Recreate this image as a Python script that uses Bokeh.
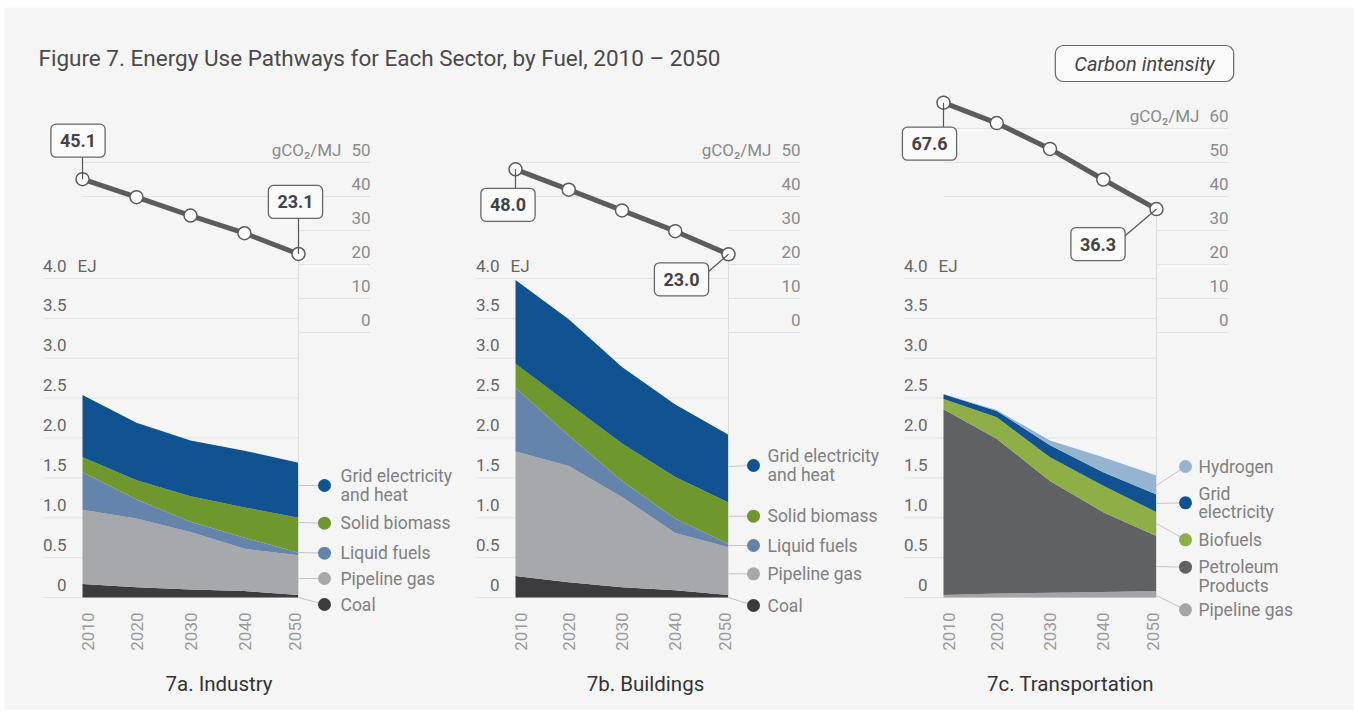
import math
from bokeh.plotting import figure
from bokeh.models import Range1d, ColumnDataSource, Label
from bokeh.core.properties import value
from bokeh.embed import file_html
from bokeh.resources import INLINE

# ---------------- data ----------------
years = [2010, 2020, 2030, 2040, 2050]
year_labels = ["2010", "2020", "2030", "2040", "2050"]

# 7a Industry (EJ)
ind_coal = [0.17, 0.13, 0.10, 0.08, 0.03]
ind_gas = [0.93, 0.86, 0.72, 0.53, 0.50]
ind_liquid = [0.47, 0.24, 0.13, 0.14, 0.03]
ind_biomass = [0.19, 0.24, 0.32, 0.38, 0.44]
ind_grid = [0.78, 0.72, 0.70, 0.71, 0.69]
ind_ci = [45.1, 39.8, 34.4, 29.2, 23.1]

# 7b Buildings (EJ)
bld_coal = [0.27, 0.19, 0.13, 0.09, 0.03]
bld_gas = [1.56, 1.46, 1.13, 0.72, 0.60]
bld_liquid = [0.80, 0.38, 0.20, 0.18, 0.04]
bld_biomass = [0.30, 0.40, 0.47, 0.52, 0.52]
bld_grid = [1.05, 1.06, 0.96, 0.91, 0.85]
bld_ci = [48.0, 42.0, 35.9, 29.8, 23.0]

# 7c Transportation (EJ)
trn_gas = [0.03, 0.05, 0.06, 0.07, 0.08]
trn_petroleum = [2.33, 1.94, 1.40, 1.00, 0.69]
trn_biofuels = [0.13, 0.27, 0.30, 0.33, 0.30]
trn_grid = [0.06, 0.08, 0.15, 0.17, 0.22]
trn_hydrogen = [0.00, 0.01, 0.06, 0.19, 0.24]
trn_ci = [67.6, 61.6, 54.0, 45.0, 36.3]

ej_ticks = [0, 0.5, 1.0, 1.5, 2.0, 2.5, 3.0, 3.5, 4.0]
ej_tick_labels = ["0", "0.5", "1.0", "1.5", "2.0", "2.5", "3.0", "3.5", "4.0"]
ci_ticks_50 = [0, 10, 20, 30, 40, 50]
ci_ticks_60 = [0, 10, 20, 30, 40, 50, 60]

title_text = "Figure 7. Energy Use Pathways for Each Sector, by Fuel, 2010 \u2013 2050"
panel_titles = ["7a. Industry", "7b. Buildings", "7c. Transportation"]

# ---------------- styles / layout ----------------
FONT_NAME = "Roboto"
FONT = value(FONT_NAME)
BG = "#f5f5f5"
GRID = "#e2e2e2"
LINE = "#5c5c5c"
C_COAL = "#3c3c3e"
C_GAS = "#a7a8ab"
C_LIQ = "#6584ab"
C_BIO = "#6e982e"
C_GRID = "#115391"
C_PET = "#606163"
C_BIOF = "#8eae46"
C_H2 = "#94b4d2"
C_TGAS = "#a3a4a7"

W, H = 1354, 710
EJ0_Y, EJ_PX = 597.0, 79.75      # y (from top) of 0 EJ, px per EJ
CI0_Y, CI_PX = 332.0, 3.4        # y (from top) of 0 gCO2/MJ, px per unit
LBL_GAP = 13                     # tick label anchor this many px above its grid line

p = figure(width=W, height=H, x_range=Range1d(0, W), y_range=Range1d(H, 0),
           output_backend="svg", toolbar_location=None, min_border=0,
           background_fill_color="white", border_fill_color="white",
           outline_line_color=None, x_axis_location=None, y_axis_location=None)
p.xgrid.visible = False
p.ygrid.visible = False

# panel background
p.quad(left=[4], right=[W], top=[7], bottom=[H], fill_color=BG, line_color=None)

p.extra_y_ranges = {
    "ej": Range1d(-(H - EJ0_Y) / EJ_PX, EJ0_Y / EJ_PX),
    "ci": Range1d(-(H - CI0_Y) / CI_PX, CI0_Y / CI_PX),
}

panels = {
    "ind": dict(xa=82, xb=298),
    "bld": dict(xa=515, xb=728),
    "trn": dict(xa=943, xb=1156),
}
for name, pn in panels.items():
    k = 40.0 / (pn["xb"] - pn["xa"])
    pn["k"] = k
    p.extra_x_ranges[name] = Range1d(2010 - pn["xa"] * k, 2050 + (W - pn["xb"]) * k)


def fx(name, yr):
    pn = panels[name]
    return pn["xa"] + (yr - 2010) / pn["k"]


def fy_ci(v):
    return CI0_Y - v * CI_PX


def txt(x, y, text, size="17px", color="#6b6b6b", align="left", baseline="middle",
        style="normal", **kw):
    p.text(x=x, y=y, text=text, text_font=FONT, text_font_size=size, text_color=color,
           text_align=align, text_baseline=baseline, text_font_style=style, **kw)


def panel(name, stacks, colors, ci, ci_ticks, legend, boxes, title, title_x):
    pn = panels[name]
    xa, xb = pn["xa"], pn["xb"]
    n = len(ej_ticks)
    # EJ grid lines
    p.segment(x0=[xa - 39] * n, x1=[xb] * n, y0=ej_ticks, y1=ej_ticks, y_range_name="ej",
              line_color=GRID, line_width=1)
    # stacked areas
    data = {"year": years}
    names = []
    for i, s in enumerate(stacks):
        data[f"s{i}"] = s
        names.append(f"s{i}")
    p.varea_stack(stackers=names, x="year", color=colors, source=ColumnDataSource(data),
                  x_range_name=name, y_range_name="ej")
    # EJ tick labels (placed above their grid lines)
    ej_lbl_y = [t + LBL_GAP / EJ_PX for t in ej_ticks]
    txt([xa - 16] * n, ej_lbl_y, ej_tick_labels, align="right", baseline="middle",
        y_range_name="ej", color="#666666")
    txt([xa - 5], [ej_lbl_y[-1]], ["EJ"], baseline="middle", y_range_name="ej",
        color="#666666")
    # vertical line at 2050
    p.segment(x0=[xb], x1=[xb], y0=[fy_ci(ci[-1])], y1=[EJ0_Y], line_color="#dcdcdc",
              line_width=1)
    # CI grid lines
    x0s = [xa if t >= 40 else xb for t in ci_ticks]
    p.segment(x0=x0s, x1=[xb + 72] * len(ci_ticks), y0=ci_ticks, y1=ci_ticks,
              y_range_name="ci", line_color=GRID, line_width=1)
    ci_lbl_y = [t + LBL_GAP / CI_PX for t in ci_ticks]
    txt([xb + 72] * len(ci_ticks), ci_lbl_y, [str(t) for t in ci_ticks], align="right",
        baseline="middle", y_range_name="ci", color="#8a8a8a")
    txt([xb + 43], [ci_lbl_y[-1]], ["gCO\u2082/MJ"], align="right", baseline="middle",
        y_range_name="ci", color="#8a8a8a")
    # CI line
    p.line(years, ci, x_range_name=name, y_range_name="ci", line_color=LINE, line_width=5)
    p.scatter(years, ci, x_range_name=name, y_range_name="ci", marker="circle", size=13,
              fill_color="white", line_color=LINE, line_width=1.5)
    # value boxes
    for idx, (dx, dy, lx, ly) in boxes:
        px_, py_ = fx(name, years[idx]), fy_ci(ci[idx])
        p.segment(x0=[px_], y0=[py_], x1=[px_ + lx], y1=[py_ + ly], line_color="#555555",
                  line_width=1.2)
        p.add_layout(Label(x=px_ + dx, y=py_ + dy, text=f"{ci[idx]:.1f}", text_font=FONT_NAME,
                           text_font_size="18px", text_font_style="bold",
                           text_color="#444444", text_align="center",
                           text_baseline="middle", background_fill_color="#fafafa",
                           border_line_color="#666666", border_line_width=1.3,
                           padding=dict(left=9, right=9, top=10, bottom=10),
                           border_radius=5))
    # legend
    ddx, tdx = legend["dot_dx"], legend["text_dx"]
    for item in legend["items"]:
        lines, col, dot_y, lead_y = item[:4]
        text_y = item[4] if len(item) > 4 else dot_y
        p.segment(x0=[xb], y0=[lead_y], x1=[xb + ddx], y1=[dot_y], line_color="#c4c4c4",
                  line_width=1)
        p.scatter([xb + ddx], [dot_y], marker="circle", size=13, fill_color=col,
                  line_color=None)
        nl = len(lines)
        ys = [text_y + (j - (nl - 1) / 2) * 18.5 for j in range(nl)]
        txt([xb + tdx] * nl, ys, lines, size="17.5px", color="#808080")
    # year labels
    txt(years, [612] * 5, year_labels, align="right", baseline="middle", x_range_name=name,
        angle=math.pi / 2, x_offset=[5, 0, 0, 0, -4], color="#9a9a9a")
    # panel title
    txt([title_x], [683], [title], size="20.5px", color="#333333", align="center")


panel("ind", [ind_coal, ind_gas, ind_liquid, ind_biomass, ind_grid],
      [C_COAL, C_GAS, C_LIQ, C_BIO, C_GRID], ind_ci, ci_ticks_50,
      dict(dot_dx=26, text_dx=42, items=[
          (["Grid electricity", "and heat"], C_GRID, 485, 485),
          (["Solid biomass"], C_BIO, 522.7, 522),
          (["Liquid fuels"], C_LIQ, 552.7, 552),
          (["Pipeline gas"], C_GAS, 578, 578),
          (["Coal"], C_COAL, 604, 597)]),
      [(0, (-4.5, -38.5, 0, -22)), (4, (-3, -52, 0, -36))],
      panel_titles[0], 218.5)

panel("bld", [bld_coal, bld_gas, bld_liquid, bld_biomass, bld_grid],
      [C_COAL, C_GAS, C_LIQ, C_BIO, C_GRID], bld_ci, ci_ticks_50,
      dict(dot_dx=25, text_dx=39, items=[
          (["Grid electricity", "and heat"], C_GRID, 465, 466),
          (["Solid biomass"], C_BIO, 515.7, 515.7),
          (["Liquid fuels"], C_LIQ, 545, 545),
          (["Pipeline gas"], C_GAS, 573.3, 573.3),
          (["Coal"], C_COAL, 605, 597)]),
      [(0, (-7.5, 35.5, 0, 20)), (4, (-47, 25, -22, 19))],
      panel_titles[1], 645)

panel("trn", [trn_gas, trn_petroleum, trn_biofuels, trn_grid, trn_hydrogen],
      [C_TGAS, C_PET, C_BIOF, C_GRID, C_H2], trn_ci, ci_ticks_60,
      dict(dot_dx=29, text_dx=42, items=[
          (["Hydrogen"], C_H2, 466, 485),
          (["Grid", "electricity"], C_GRID, 502.3, 503),
          (["Biofuels"], C_BIOF, 539.3, 523),
          (["Petroleum", "Products"], C_PET, 566.7, 566, 576),
          (["Pipeline gas"], C_TGAS, 609.3, 595)]),
      [(0, (-14, 41, 0, 25)), (4, (-58.5, 35, -34, 29))],
      panel_titles[2], 1070)

# title
txt([38], [57], [title_text], size="22.5px", color="#4a4a4a")
p.add_layout(Label(x=1144, y=63, text="Carbon intensity", text_font=FONT_NAME,
                   text_font_size="20px", text_font_style="italic", text_color="#444444",
                   text_align="center", text_baseline="middle",
                   background_fill_color="#fafafa", border_line_color="#666666",
                   border_line_width=1.2, padding=dict(left=19, right=19, top=6, bottom=6),
                   border_radius=8))

open("out.html", "w").write(file_html(p, INLINE))
